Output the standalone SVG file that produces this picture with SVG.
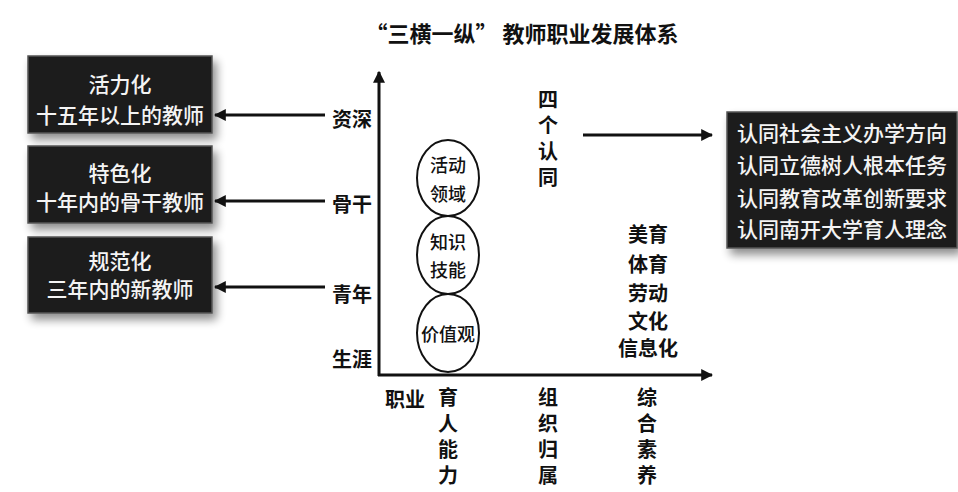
<svg xmlns="http://www.w3.org/2000/svg" width="958" height="492" viewBox="0 0 958 492">
<style>
text{font-family:"Noto Sans CJK SC","Noto Sans",sans-serif;text-anchor:middle;dominant-baseline:central;fill:#111;font-weight:bold}
.w{fill:#f4f4f4;font-size:21px;font-weight:500}
.box{fill:#1c1c1c;stroke:#555;stroke-width:1.5}
.lbl{font-size:20px}
.v{font-size:20px;writing-mode:vertical-rl;text-anchor:start;letter-spacing:6px}
.c{font-size:18px;font-weight:500}
.ln{stroke:#111;stroke-width:3;fill:none}
.ell{fill:none;stroke:#111;stroke-width:2}
</style>
<defs>
<filter id="sh" x="-20%" y="-20%" width="150%" height="160%"><feGaussianBlur in="SourceAlpha" stdDeviation="5"/><feOffset dx="4" dy="6" result="b"/><feComponentTransfer><feFuncA type="linear" slope="0.45"/></feComponentTransfer><feMerge><feMergeNode/><feMergeNode in="SourceGraphic"/></feMerge></filter>
<marker id="ah" viewBox="0 0 10 10" refX="9" refY="5" markerWidth="4" markerHeight="4" orient="auto-start-reverse"><path d="M0,0 L10,5 L0,10 z" fill="#111"/></marker>
</defs>
<rect width="958" height="492" fill="#fff"/>
<text x="522" y="32" style="font-size:22px">“三横一纵” 教师职业发展体系</text>

<g id="box-senior"><rect class="box" x="28" y="56" width="184" height="77" filter="url(#sh)"/><text class="w" x="120" y="83">活力化</text><text class="w" x="120" y="114">十五年以上的教师</text></g>
<g id="box-backbone"><rect class="box" x="28" y="146" width="184" height="77" filter="url(#sh)"/><text class="w" x="120" y="172">特色化</text><text class="w" x="120" y="201">十年内的骨干教师</text></g>
<g id="box-new"><rect class="box" x="28" y="237" width="184" height="76" filter="url(#sh)"/><text class="w" x="120" y="260">规范化</text><text class="w" x="120" y="288">三年内的新教师</text></g>
<g id="box-identity"><rect class="box" x="727" y="112" width="230" height="136" filter="url(#sh)"/>
<text class="w" x="842" y="132">认同社会主义办学方向</text><text class="w" x="842" y="164">认同立德树人根本任务</text><text class="w" x="842" y="197">认同教育改革创新要求</text><text class="w" x="842" y="228">认同南开大学育人理念</text></g>

<g id="connectors">
<line class="ln" x1="379" y1="376" x2="379" y2="72" marker-end="url(#ah)"/>
<line class="ln" x1="378" y1="375" x2="712" y2="375" marker-end="url(#ah)"/>
<line class="ln" x1="325" y1="115" x2="215" y2="115" marker-end="url(#ah)"/>
<line class="ln" x1="325" y1="201" x2="215" y2="201" marker-end="url(#ah)"/>
<line class="ln" x1="325" y1="287" x2="215" y2="287" marker-end="url(#ah)"/>
<line class="ln" x1="583" y1="135" x2="712" y2="135" marker-end="url(#ah)"/>
</g>

<g id="y-labels">
<text class="lbl" x="352" y="118">资深</text>
<text class="lbl" x="352" y="203">骨干</text>
<text class="lbl" x="352" y="293">青年</text>
<text class="lbl" x="352" y="358">生涯</text>
</g>

<g id="circle-activity"><ellipse class="ell" cx="448" cy="178" rx="31" ry="38"/><text class="c" x="448" y="164">活动</text><text class="c" x="448" y="193">领域</text></g>
<g id="circle-skill"><ellipse class="ell" cx="448" cy="255" rx="31" ry="39"/><text class="c" x="448" y="241">知识</text><text class="c" x="448" y="269">技能</text></g>
<g id="circle-value"><ellipse class="ell" cx="448" cy="333" rx="31" ry="39"/><text class="c" x="448" y="333">价值观</text></g>

<g id="four-identity"><text class="v" x="548" y="89">四个认同</text></g>

<g id="literacy-list">
<text class="lbl" x="648" y="233">美育</text><text class="lbl" x="648" y="263">体育</text><text class="lbl" x="648" y="292">劳动</text><text class="lbl" x="648" y="320">文化</text><text class="lbl" x="648" y="347">信息化</text>
</g>

<g id="x-labels">
<text class="lbl" x="405" y="398">职业</text>
<text class="v" x="448" y="387">育人能力</text>
<text class="v" x="548" y="387">组织归属</text>
<text class="v" x="647" y="387">综合素养</text>
</g>
</svg>
